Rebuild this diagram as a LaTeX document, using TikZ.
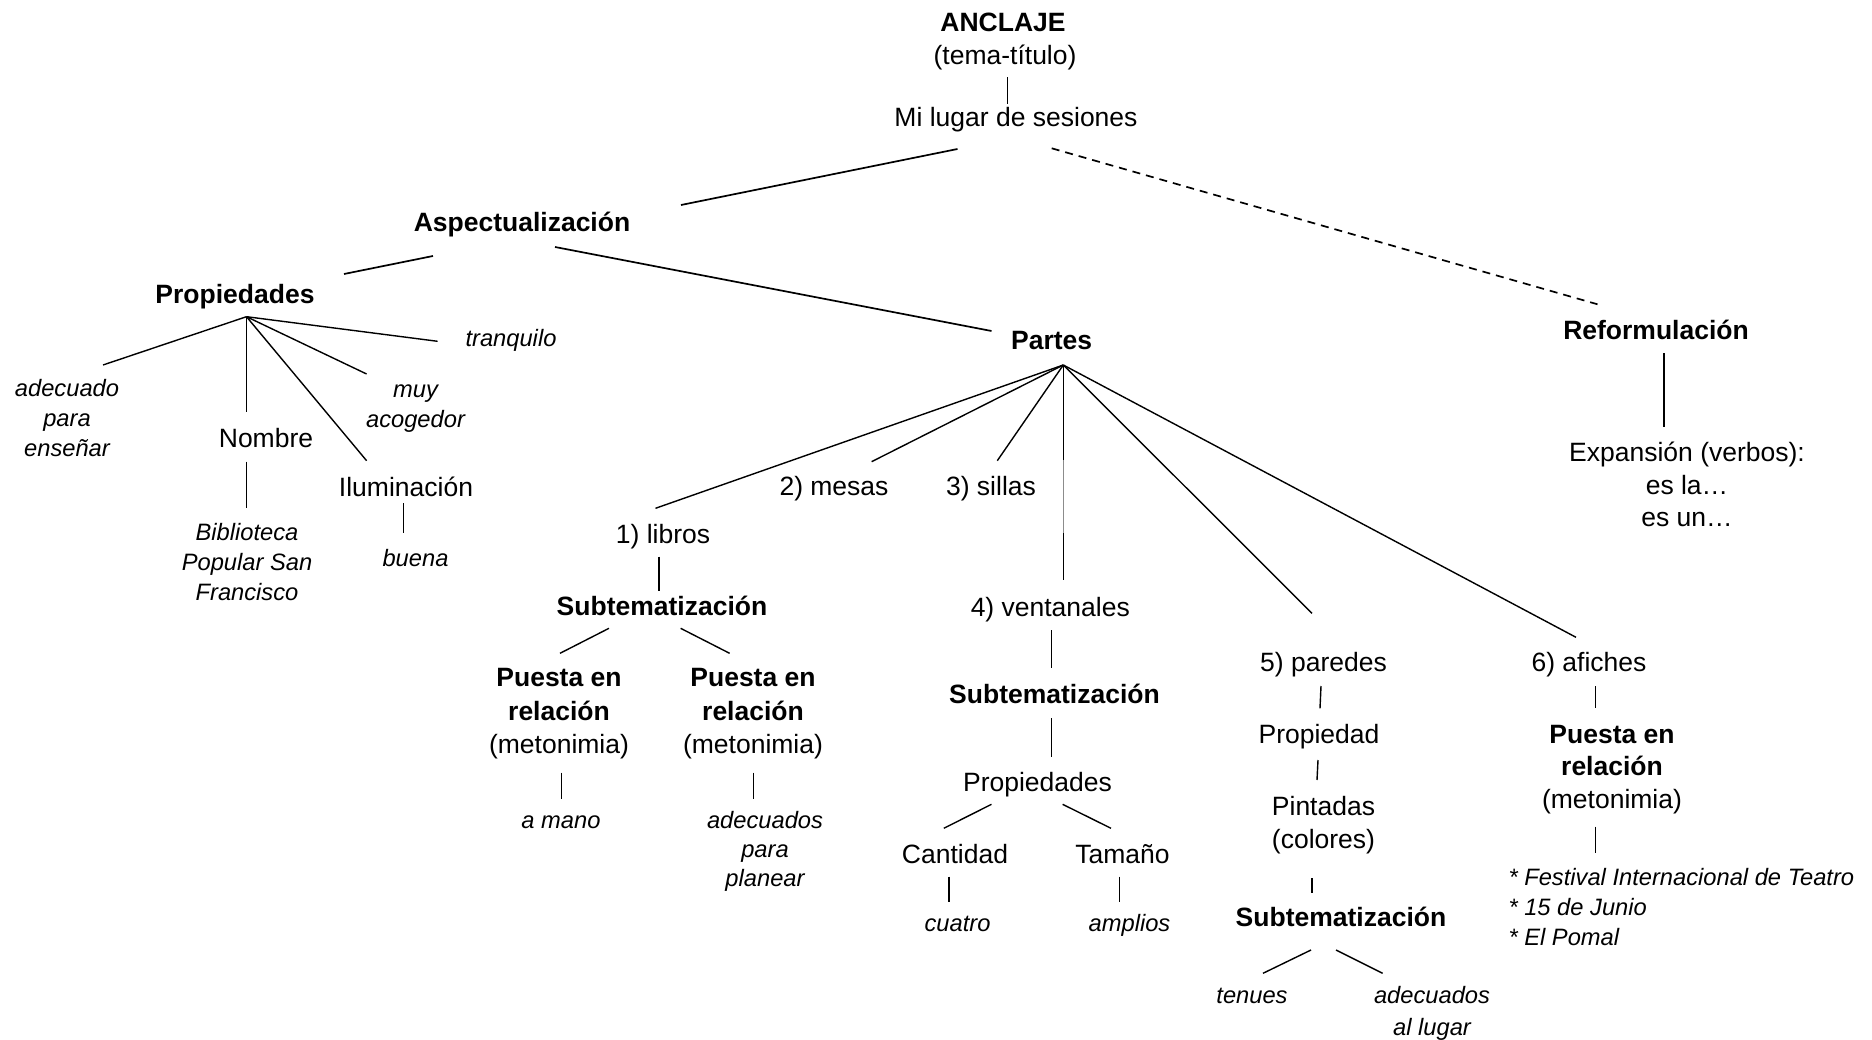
\documentclass[tikz,border=0pt]{standalone}
\usepackage{fontspec}
\setmainfont{Liberation Sans}
% centred / left-aligned stacks of lines; #1 = font size, #2 = distance between baselines
\newcommand{\cstack}[3][26.5]{{\fontsize{#1}{#2}\selectfont\begin{tabular}[t]{@{}c@{}}#3\end{tabular}}}
\newcommand{\lstack}[3][26.5]{{\fontsize{#1}{#2}\selectfont\begin{tabular}[t]{@{}l@{}}#3\end{tabular}}}
\tikzset{
  txt/.style={anchor=base, inner sep=0pt, font=\fontsize{26.5}{30}\selectfont},
  txtb/.style={txt, font=\fontsize{26.5}{30}\selectfont\bfseries},
  txti/.style={txt, font=\fontsize{23.7}{30}\selectfont\itshape},
  link/.style={line width=1.7pt},
  twig/.style={line width=1.4pt},
  reflink/.style={line width=1.7pt, dash pattern=on 8pt off 6pt}
}
\begin{document}
\begin{tikzpicture}[x=1pt, y=-1pt]
\fill[white] (0,0) rectangle (1872,1040);
\useasboundingbox (0,0) rectangle (1872,1040);

% ---------- top ----------
\node[txtb] (anclaje) at (1003,31.7) {ANCLAJE};
\node[txt]  (tema)    at (1005,65) {(tema-título)};
\node[txt]  (lugar)   at (1016,126.7) {Mi lugar de sesiones};

% ---------- aspectualization branch ----------
\node[txtb] (aspect) at (522,232) {Aspectualización};
\node[txtb] (prop)   at (235,304) {Propiedades};
\node[txtb] (partes) at (1051.7,350) {Partes};

\node[txti] (tranq)  at (511,347) {tranquilo};
\node[txti] (adec)   at (67,396.7) {\cstack[23.7]{30}{adecuado\\para\\enseñar}};
\node[txti] (muy)    at (415.5,397.7) {\cstack[23.7]{30}{muy\\acogedor}};
\node[txt]  (nombre) at (266,447.7) {Nombre};
\node[txti] (biblio) at (247,540.3) {\cstack[23.7]{30}{Biblioteca\\Popular San\\Francisco}};
\node[txt]  (ilum)   at (406,496) {Iluminación};
\node[txti] (buena)  at (415.5,566.7) {buena};

% parts
\node[txt] (libros)  at (663,543.3) {1) libros};
\node[txt] (mesas)   at (834,495.7) {2) mesas};
\node[txt] (sillas)  at (991,495) {3) sillas};
\node[txt] (vent)    at (1050.3,616.7) {4) ventanales};
\node[txt] (paredes) at (1323.5,671.7) {5) paredes};
\node[txt] (afiches) at (1589,671.7) {6) afiches};

% 1) libros
\node[txtb] (subA) at (662,615) {Subtematización};
\node[txt] (pueA) at (559,686.7) {\cstack{33.3}{\textbf{Puesta en}\\\textbf{relación}\\(metonimia)}};
\node[txt] (pueB) at (753,686.7) {\cstack{33.3}{\textbf{Puesta en}\\\textbf{relación}\\(metonimia)}};
\node[txti] (mano) at (561,828.3) {a mano};
\node[txti] (adecB) at (765,828.3) {\cstack[23.7]{29.2}{adecuados\\para\\planear}};

% 4) ventanales
\node[txtb] (subB)  at (1054.5,703.3) {Subtematización};
\node[txt]  (propB) at (1037.5,791.7) {Propiedades};
\node[txt]  (cant)  at (955,863.3) {Cantidad};
\node[txt]  (tam)   at (1122.5,863.3) {Tamaño};
\node[txti] (cuatro)  at (957.5,931.7) {cuatro};
\node[txti] (amplios) at (1129.5,931.7) {amplios};

% 5) paredes
\node[txt]  (propC) at (1319,743.3) {Propiedad};
\node[txt]  (pint)  at (1323.5,815) {\cstack{33.3}{Pintadas\\(colores)}};
\node[txtb] (subC)  at (1341,926.7) {Subtematización};
\node[txti] (tenues) at (1252,1003.3) {tenues};
\node[txti] (adecC)  at (1432,1003.3) {\cstack[23.7]{31.7}{adecuados\\al lugar}};

% 6) afiches
\node[txt] (pueC) at (1612,743.3) {\cstack{32.5}{\textbf{Puesta en}\\\textbf{relación}\\(metonimia)}};
\node[txti, anchor=base west] (fest) at (1508.3,885) {\lstack[23.7]{30}{* Festival Internacional de Teatro\\{}* 15 de Junio\\{}* El Pomal}};

% ---------- reformulation branch ----------
\node[txtb] (reform) at (1656,340) {Reformulación};
\node[txt]  (expan)  at (1687,461.7) {\cstack{32.5}{Expansión (verbos):\\es la…\\es un…}};

% ---------- connector end points ----------
\coordinate (tema-s)   at (1007.6,77.3);
\coordinate (lugar-n)  at (1007.6,104);
\coordinate (lugar-sw) at (957.5,149);
\coordinate (lugar-se) at (1051.7,148.3);
\coordinate (aspect-ne) at (681,205);
\coordinate (aspect-sw) at (433,256);
\coordinate (aspect-se) at (555,247);
\coordinate (prop-ne)   at (344,274);
\coordinate (partes-nw) at (991.5,331);
\coordinate (reform-nw) at (1597.5,304.3);

\coordinate (propHub) at (246.5,316.7);
\coordinate (adec-n)   at (103,365);
\coordinate (nombre-n) at (246.5,412);
\coordinate (ilum-n)   at (366.6,460.7);
\coordinate (muy-n)    at (366.6,374);
\coordinate (tranq-w)  at (437.6,341.3);
\coordinate (nombre-s) at (246.5,461.7);
\coordinate (biblio-n) at (246.5,508.3);
\coordinate (ilum-s)   at (403.6,503);
\coordinate (buena-n)  at (403.6,532.7);

\coordinate (partesHub) at (1063.3,365);
\coordinate (libros-n)  at (655.5,508.3);
\coordinate (mesas-n)   at (871.6,461.7);
\coordinate (sillas-n)  at (997.3,460.7);
\coordinate (ventA)     at (1063.3,460);
\coordinate (ventB)     at (1063.3,533.3);
\coordinate (vent-n)    at (1063.3,580);
\coordinate (paredes-n) at (1312,613.3);
\coordinate (afiches-n) at (1576,637.3);

\coordinate (reform-s) at (1664,353.3);
\coordinate (expan-n)  at (1664,426.7);

\coordinate (libros-s) at (659,556.7);
\coordinate (subA-n)   at (659,590.7);
\coordinate (subA-sw)  at (609,628.3);
\coordinate (pueA-n)   at (560,653.3);
\coordinate (subA-se)  at (680.6,628.3);
\coordinate (pueB-n)   at (729.6,653.3);
\coordinate (pueA-s)   at (561.2,772.7);
\coordinate (mano-n)   at (561.2,799.3);
\coordinate (pueB-s)   at (753.4,772.7);
\coordinate (adecB-n)  at (753.4,799.3);

\coordinate (vent-s)   at (1051.2,630);
\coordinate (subB-n)   at (1051.2,668.3);
\coordinate (subB-s)   at (1051.2,718.3);
\coordinate (propB-n)  at (1051.2,756.7);
\coordinate (propB-sw) at (991.5,804.3);
\coordinate (cant-n)   at (943.8,828.3);
\coordinate (propB-se) at (1062.6,804.3);
\coordinate (tam-n)    at (1111,828.3);
\coordinate (cant-s)   at (949,876.7);
\coordinate (cuatro-n) at (949,901.7);
\coordinate (tam-s)    at (1119.3,876.7);
\coordinate (amplios-n) at (1119.3,901.7);

\coordinate (paredes-s) at (1321,686);
\coordinate (propC-n)   at (1320,708.3);
\coordinate (propC-s)   at (1318,760);
\coordinate (pint-n)    at (1317,780);
\coordinate (pint-s)    at (1312,878.3);
\coordinate (subC-n)    at (1312,892.7);
\coordinate (subC-sw)   at (1311,950);
\coordinate (tenues-n)  at (1263,973.3);
\coordinate (subC-se)   at (1336,950);
\coordinate (adecC-n)   at (1382.6,973.3);

\coordinate (afiches-s) at (1595.7,686);
\coordinate (pueC-n)    at (1595.7,708.3);
\coordinate (pueC-s)    at (1595.7,826.7);
\coordinate (fest-n)    at (1595.7,852.7);

% ---------- connectors ----------
\draw[link] (tema-s) -- (lugar-n);
\draw[link] (lugar-sw) -- (aspect-ne);
\draw[reflink] (lugar-se) -- (reform-nw);
\draw[link] (aspect-sw) -- (prop-ne);
\draw[link] (aspect-se) -- (partes-nw);

\foreach \e in {adec-n, nombre-n, ilum-n, muy-n, tranq-w}
  \draw[twig] (propHub) -- (\e);
\draw[twig] (nombre-s) -- (biblio-n);
\draw[twig] (ilum-s) -- (buena-n);

\foreach \e in {libros-n, mesas-n, sillas-n, paredes-n, afiches-n}
  \draw[twig] (partesHub) -- (\e);
\draw[twig] (partesHub) -- (ventA);
\draw[line width=0.8pt, black!45] (ventA) -- (ventB);
\draw[twig] (ventB) -- (vent-n);

\draw[twig] (reform-s) -- (expan-n);

\draw[twig] (libros-s) -- (subA-n);
\draw[twig] (subA-sw) -- (pueA-n);
\draw[twig] (subA-se) -- (pueB-n);
\draw[twig] (pueA-s) -- (mano-n);
\draw[twig] (pueB-s) -- (adecB-n);

\draw[twig] (vent-s) -- (subB-n);
\draw[twig] (subB-s) -- (propB-n);
\draw[twig] (propB-sw) -- (cant-n);
\draw[twig] (propB-se) -- (tam-n);
\draw[twig] (cant-s) -- (cuatro-n);
\draw[twig] (tam-s) -- (amplios-n);

\draw[twig] (paredes-s) -- (propC-n);
\draw[twig] (propC-s) -- (pint-n);
\draw[twig] (pint-s) -- (subC-n);
\draw[twig] (subC-sw) -- (tenues-n);
\draw[twig] (subC-se) -- (adecC-n);

\draw[twig] (afiches-s) -- (pueC-n);
\draw[twig] (pueC-s) -- (fest-n);
\end{tikzpicture}
\end{document}
